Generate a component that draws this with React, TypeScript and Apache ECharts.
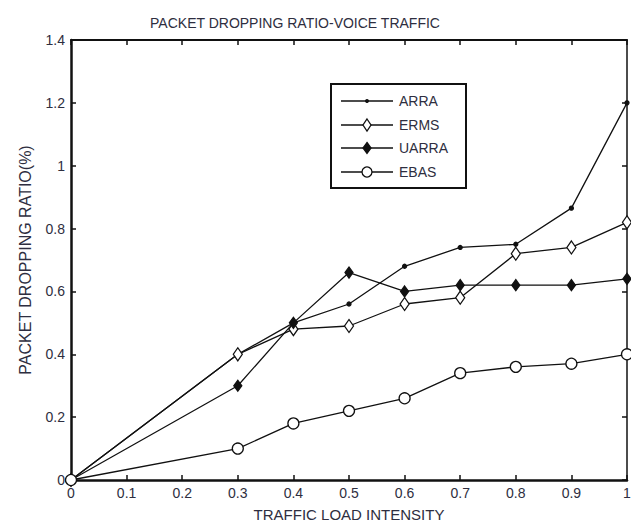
import React, { useEffect, useRef } from "react";
import * as echarts from "echarts";

const xValues = [0, 0.3, 0.4, 0.5, 0.6, 0.7, 0.8, 0.9, 1];
const arra = [0, 0.4, 0.5, 0.56, 0.68, 0.74, 0.75, 0.865, 1.2];
const erms = [0, 0.4, 0.48, 0.49, 0.56, 0.58, 0.72, 0.74, 0.82];
const uarra = [0, 0.3, 0.5, 0.66, 0.6, 0.62, 0.62, 0.62, 0.64];
const ebas = [0, 0.1, 0.18, 0.22, 0.26, 0.34, 0.36, 0.37, 0.4];
const seriesNames = ["ARRA", "ERMS", "UARRA", "EBAS"];

const txt = "#2e2e40";
const font = "'Liberation Sans', Arial, sans-serif";

export default function App() {
  const ref = useRef<HTMLDivElement>(null);
  useEffect(() => {
    if (!ref.current) return;
    const chart = echarts.init(ref.current, undefined, { renderer: "svg" });
    const pair = (ys: number[]) => xValues.map((x, i) => [x, ys[i]]);
    const mk = (name: string, ys: number[], symbol: string, size: any, filled: boolean) => ({
      name,
      type: "line",
      data: pair(ys),
      symbol,
      symbolSize: size,
      showSymbol: true,
      lineStyle: { color: "#111", width: 1.3 },
      itemStyle: { color: filled ? "#111" : "#fff", borderColor: "#111", borderWidth: 1.3 },
      emphasis: { disabled: true },
      z: 3,
    });
    const axisCommon = {
      type: "value" as const,
      axisLine: { show: true, onZero: false, lineStyle: { color: "#111", width: 2.5 } },
      axisTick: { show: true, inside: true, length: 5, lineStyle: { color: "#111", width: 1.5 } },
      splitLine: { show: false },
    };

    // custom legend
    const lgLeft = 331;
    const lgTop = 84;
    const rowY = [101, 125, 148, 172];
    const lineX1 = 341;
    const lineX2 = 393;
    const mx = 367;
    const legendChildren: any[] = [
      {
        type: "rect",
        shape: { x: lgLeft, y: lgTop, width: 135, height: 104 },
        style: { fill: "#fff", stroke: "#111", lineWidth: 2 },
      },
    ];
    seriesNames.forEach((name, i) => {
      const y = rowY[i];
      legendChildren.push({
        type: "line",
        shape: { x1: lineX1, y1: y, x2: lineX2, y2: y },
        style: { stroke: "#111", lineWidth: 1.3 },
      });
      if (i === 0) {
        legendChildren.push({ type: "circle", shape: { cx: mx, cy: y, r: 2 }, style: { fill: "#111" } });
      } else if (i === 1) {
        legendChildren.push({
          type: "polygon",
          shape: { points: [[mx, y - 6], [mx + 4, y], [mx, y + 6], [mx - 4, y]] },
          style: { fill: "#fff", stroke: "#111", lineWidth: 1.3 },
        });
      } else if (i === 2) {
        legendChildren.push({
          type: "polygon",
          shape: { points: [[mx, y - 5.5], [mx + 4, y], [mx, y + 5.5], [mx - 4, y]] },
          style: { fill: "#111", stroke: "#111", lineWidth: 1.3 },
        });
      } else {
        legendChildren.push({
          type: "circle",
          shape: { cx: mx, cy: y, r: 5 },
          style: { fill: "#fff", stroke: "#111", lineWidth: 1.3 },
        });
      }
      legendChildren.push({
        type: "text",
        x: 399,
        y,
        style: {
          text: name,
          font: `14px ${font}`,
          fill: txt,
          verticalAlign: "middle",
          align: "left",
        },
      });
    });

    chart.setOption({
      animation: false,
      backgroundColor: "#fff",
      title: {
        text: "PACKET DROPPING RATIO-VOICE TRAFFIC",
        left: 290,
        textAlign: "center",
        top: 11,
        textStyle: { fontFamily: font, fontSize: 14, fontWeight: "normal", color: txt },
      },
      graphic: [{ type: "group", z: 100, children: legendChildren }],
      grid: { left: 71, right: 4, top: 40, bottom: 44, containLabel: false, outerBoundsMode: "none" },
      xAxis: [
        {
          ...axisCommon,
          min: 0,
          max: 1,
          interval: 0.1,
          position: "bottom",
          name: "TRAFFIC LOAD INTENSITY",
          nameLocation: "middle",
          nameGap: 27,
          nameTextStyle: { fontFamily: font, fontSize: 15, color: txt },
          axisLabel: { fontFamily: font, fontSize: 14, color: txt, margin: 6 },
        },
        {
          ...axisCommon,
          min: 0,
          max: 1,
          interval: 0.1,
          position: "top",
          axisLine: { show: true, onZero: false, lineStyle: { color: "#111", width: 2 } },
          axisLabel: { show: false },
        },
      ],
      yAxis: [
        {
          ...axisCommon,
          min: 0,
          max: 1.4,
          interval: 0.2,
          position: "left",
          name: "PACKET DROPPING RATIO(%)",
          nameLocation: "middle",
          nameGap: 38,
          nameTextStyle: { fontFamily: font, fontSize: 16, color: txt },
          axisLabel: { fontFamily: font, fontSize: 14, color: txt, margin: 6 },
        },
        {
          ...axisCommon,
          min: 0,
          max: 1.4,
          interval: 0.2,
          position: "right",
          axisLine: { show: true, onZero: false, lineStyle: { color: "#111", width: 1.5 } },
          axisLabel: { show: false },
        },
      ],
      series: [
        mk(seriesNames[0], arra, "circle", 4, true),
        mk(seriesNames[1], erms, "diamond", [9, 13], false),
        mk(seriesNames[2], uarra, "diamond", [8, 11], true),
        mk(seriesNames[3], ebas, "circle", 11, false),
      ],
    });
    return () => chart.dispose();
  }, []);
  return (
    <div
      ref={ref}
      style={{ position: "fixed", left: 0, top: 0, width: 631, height: 524, background: "#fff" }}
    />
  );
}
